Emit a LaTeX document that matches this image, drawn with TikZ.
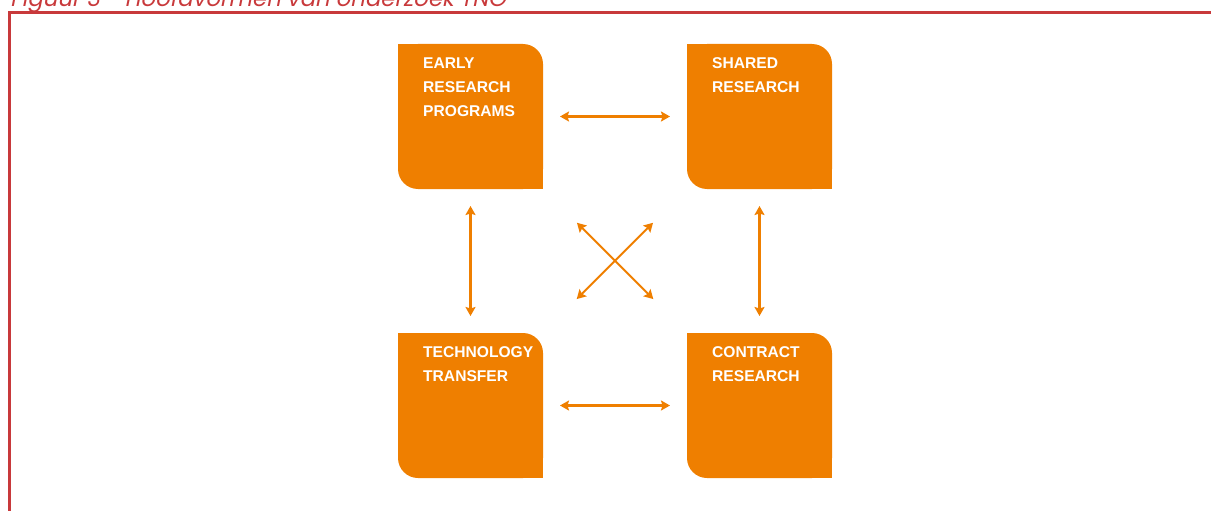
\documentclass[tikz,border=0pt]{standalone}
\usepackage{fontspec}
\setmainfont{Liberation Sans}
\newfontfamily\captionfont[FakeSlant=0.2]{Poppins}
\usetikzlibrary{arrows.meta,positioning}

\definecolor{tnoorange}{HTML}{EF7F00}
\definecolor{figred}{HTML}{C8393B}

\tikzset{
    tile/.style={fill=tnoorange, rounded corners=20pt, minimum width=145pt, minimum height=145pt, inner sep=0pt, outer sep=0pt},
    tiletext/.style={text=white, font=\bfseries\fontsize{15.6}{24}\selectfont, align=left, inner sep=0pt},
    link/.style={<->, draw=tnoorange, line width=2.2pt, >={Stealth[length=9pt,width=10pt,inset=1.5pt]}, shorten <=17pt, shorten >=17pt},
    crosslink/.style={link, line width=1.9pt, shorten <=48pt, shorten >=48pt}
}

\begin{document}
\begin{tikzpicture}[x=1pt, y=-1pt]
                \useasboundingbox (0,0) rectangle (1211,511);
                \clip (0,0) rectangle (1211,511);
                % caption, cut off at the top
                \node[text=figred, font=\captionfont\fontsize{22.8}{27}\selectfont, anchor=base west, inner sep=0pt] (caption) at (10,7) {Figuur 3 - Hoofdvormen van onderzoek TNO};
                \draw[figred, line width=3pt] (9.5,511) -- (9.5,12.5) -- (1211,12.5);
                % the four tiles
                \node[tile] (erp) at (470.5,116.5) {};
                \node[tile, right=144pt of erp] (shared) {};
                \node[tile, below=144pt of erp] (tech) {};
                \node[tile, right=144pt of tech] (contract) {};
                \foreach \n in {erp,shared,tech,contract} {
                    \fill[tnoorange] (\n.north west) rectangle ++(30,30);
                    \fill[tnoorange] (\n.south east) rectangle ++(-30,-30);
                }
                \node[tiletext, below right=13.5pt and 25pt of erp.north west] (erptext) {EARLY\\RESEARCH\\PROGRAMS};
                \node[tiletext, below right=13.5pt and 25pt of shared.north west] (sharedtext) {SHARED\\RESEARCH};
                \node[tiletext, below right=13.5pt and 25pt of tech.north west] (techtext) {TECHNOLOGY\\TRANSFER};
                \node[tiletext, below right=13.5pt and 25pt of contract.north west] (contracttext) {CONTRACT\\RESEARCH};
                % arrows between the tiles
                \draw[link] (erp) -- (shared);
                \draw[link] (tech) -- (contract);
                \draw[link] (erp) -- (tech);
                \draw[link] (shared) -- (contract);
                \draw[crosslink] (erp) -- (contract);
                \draw[crosslink] (shared) -- (tech);
            \end{tikzpicture}
\end{document}
